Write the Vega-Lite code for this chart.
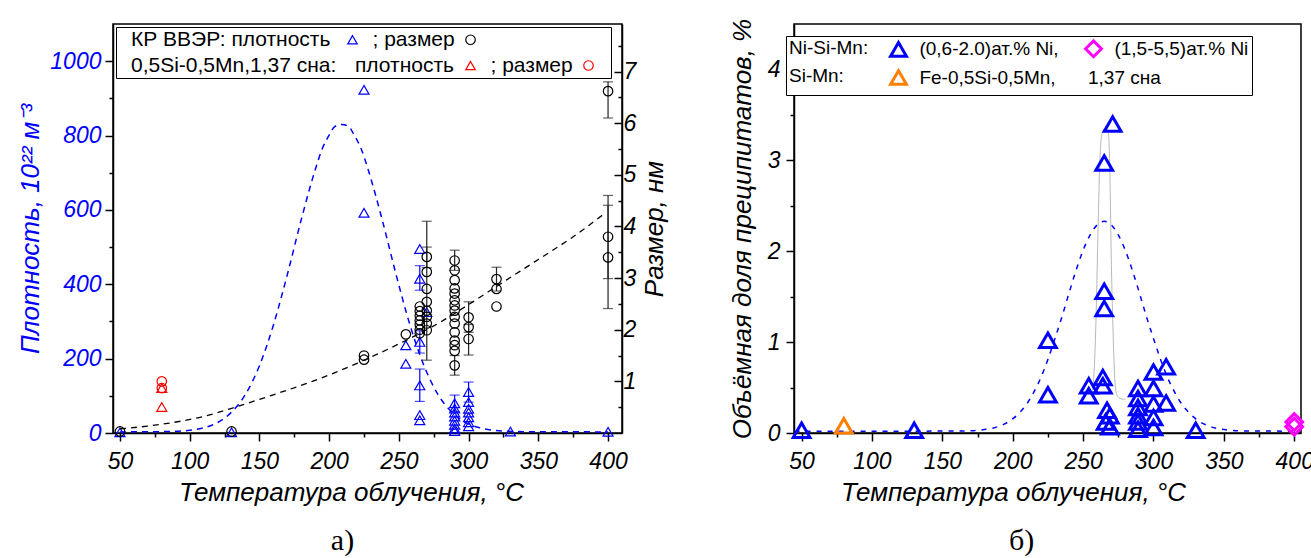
{
  "$schema": "https://vega.github.io/schema/vega-lite/v6.json",
  "background": "white",
  "padding": {"left": 17, "top": 17, "right": 5, "bottom": 0},
  "config": {
    "font": "Liberation Sans",
    "view": {"stroke": "black", "strokeWidth": 1.5},
    "axis": {
      "grid": false, "domainColor": "black", "domainWidth": 1.5, "tickColor": "black", "tickWidth": 1.5,
      "labelFont": "Liberation Sans", "labelFontStyle": "italic", "labelFontSize": 23, "labelColor": "black",
      "titleFont": "Liberation Sans", "titleFontStyle": "italic", "titleFontWeight": "normal", "titleFontSize": 26, "titleColor": "black",
      "labelFlush": false, "labelOverlap": false, "labelBound": false
    },
    "legend": {"labelFont": "Liberation Sans", "titleFont": "Liberation Sans"}
  },
  "datasets": {
    "dens": [
      {"T": 50, "D": 2, "s": "a"}, {"T": 130, "D": 2, "s": "a"},
      {"T": 225, "D": 923, "s": "a"}, {"T": 225, "D": 592, "s": "a"},
      {"T": 255, "D": 236, "s": "a"}, {"T": 255, "D": 186, "s": "a"},
      {"T": 265, "D": 495, "s": "a"}, {"T": 265, "D": 415, "s": "a", "lo": 384, "hi": 450},
      {"T": 270, "D": 325, "s": "a"}, {"T": 265, "D": 245, "s": "a", "lo": 215, "hi": 275},
      {"T": 265, "D": 128, "s": "a", "lo": 85, "hi": 172}, {"T": 265, "D": 48, "s": "a"}, {"T": 265, "D": 34, "s": "a"},
      {"T": 290, "D": 80, "s": "a", "lo": 58, "hi": 102}, {"T": 290, "D": 66, "s": "a"}, {"T": 290, "D": 55, "s": "a"},
      {"T": 290, "D": 44, "s": "a"}, {"T": 290, "D": 33, "s": "a"}, {"T": 290, "D": 22, "s": "a"},
      {"T": 290, "D": 12, "s": "a"}, {"T": 290, "D": 5, "s": "a"},
      {"T": 300, "D": 110, "s": "a", "lo": 83, "hi": 137}, {"T": 300, "D": 83, "s": "a"}, {"T": 300, "D": 65, "s": "a"},
      {"T": 300, "D": 55, "s": "a"}, {"T": 300, "D": 42, "s": "a"}, {"T": 300, "D": 29, "s": "a"}, {"T": 300, "D": 18, "s": "a"},
      {"T": 330, "D": 4, "s": "a"}, {"T": 400, "D": 3, "s": "a"},
      {"T": 80, "D": 121, "s": "c"}, {"T": 80, "D": 70, "s": "c"}
    ],
    "size": [
      {"T": 50, "S": 0.03, "s": "b"}, {"T": 130, "S": 0.03, "s": "b"},
      {"T": 225, "S": 1.5, "s": "b"}, {"T": 225, "S": 1.42, "s": "b"}, {"T": 255, "S": 1.91, "s": "b"},
      {"T": 265, "S": 2.45, "s": "b"}, {"T": 265, "S": 2.36, "s": "b"}, {"T": 265, "S": 2.27, "s": "b"},
      {"T": 265, "S": 2.18, "s": "b"}, {"T": 265, "S": 2.1, "s": "b"}, {"T": 265, "S": 2.0, "s": "b"}, {"T": 265, "S": 1.93, "s": "b"},
      {"T": 270, "S": 3.41, "s": "b", "lo": 3.2, "hi": 3.6}, {"T": 270, "S": 3.12, "s": "b"},
      {"T": 270, "S": 2.79, "s": "b", "lo": 1.41, "hi": 4.1}, {"T": 270, "S": 2.54, "s": "b"}, {"T": 270, "S": 2.37, "s": "b"},
      {"T": 270, "S": 2.25, "s": "b"}, {"T": 270, "S": 2.12, "s": "b"}, {"T": 270, "S": 1.99, "s": "b"},
      {"T": 290, "S": 3.34, "s": "b", "lo": 3.15, "hi": 3.54}, {"T": 290, "S": 3.15, "s": "b"}, {"T": 290, "S": 2.96, "s": "b"},
      {"T": 290, "S": 2.8, "s": "b"}, {"T": 290, "S": 2.7, "s": "b"}, {"T": 290, "S": 2.57, "s": "b"}, {"T": 290, "S": 2.47, "s": "b"},
      {"T": 290, "S": 2.37, "s": "b"}, {"T": 290, "S": 2.25, "s": "b"}, {"T": 290, "S": 2.12, "s": "b"}, {"T": 290, "S": 1.95, "s": "b"},
      {"T": 290, "S": 1.79, "s": "b"}, {"T": 290, "S": 1.7, "s": "b"}, {"T": 290, "S": 1.59, "s": "b"},
      {"T": 290, "S": 1.31, "s": "b", "lo": 1.12, "hi": 1.5},
      {"T": 300, "S": 2.24, "s": "b", "lo": 1.95, "hi": 2.54}, {"T": 300, "S": 2.05, "s": "b"},
      {"T": 300, "S": 1.82, "s": "b", "lo": 1.51, "hi": 2.1},
      {"T": 320, "S": 2.98, "s": "b", "lo": 2.75, "hi": 3.21}, {"T": 320, "S": 2.79, "s": "b"}, {"T": 320, "S": 2.45, "s": "b"},
      {"T": 400, "S": 6.62, "s": "b", "lo": 6.1, "hi": 6.8}, {"T": 400, "S": 3.8, "s": "b", "lo": 2.99, "hi": 4.6},
      {"T": 400, "S": 3.4, "s": "b", "lo": 2.41, "hi": 4.41},
      {"T": 80, "S": 1.0, "s": "d"}, {"T": 80, "S": 0.87, "s": "d"}
    ],
    "densfit": [
      {"T": 50, "D": 3}, {"T": 70, "D": 3.2}, {"T": 90, "D": 4.6}, {"T": 100, "D": 7.4}, {"T": 110, "D": 14},
      {"T": 120, "D": 28}, {"T": 130, "D": 56}, {"T": 140, "D": 104}, {"T": 150, "D": 181}, {"T": 160, "D": 290},
      {"T": 170, "D": 426}, {"T": 180, "D": 574}, {"T": 190, "D": 708}, {"T": 195, "D": 764}, {"T": 200, "D": 801},
      {"T": 204, "D": 824}, {"T": 209, "D": 830}, {"T": 214, "D": 824}, {"T": 218, "D": 801}, {"T": 223, "D": 764},
      {"T": 228, "D": 708}, {"T": 238, "D": 574}, {"T": 248, "D": 426}, {"T": 258, "D": 290}, {"T": 268, "D": 181},
      {"T": 278, "D": 104}, {"T": 288, "D": 56}, {"T": 298, "D": 28}, {"T": 308, "D": 14}, {"T": 318, "D": 7.4},
      {"T": 328, "D": 4.6}, {"T": 348, "D": 3.2}, {"T": 400, "D": 3}
    ],
    "sizefit": [
      {"T": 50, "S": 0.08}, {"T": 80, "S": 0.17}, {"T": 110, "S": 0.32}, {"T": 135, "S": 0.52}, {"T": 160, "S": 0.74},
      {"T": 190, "S": 1.02}, {"T": 220, "S": 1.35}, {"T": 245, "S": 1.66}, {"T": 260, "S": 1.86}, {"T": 280, "S": 2.15},
      {"T": 303, "S": 2.54}, {"T": 327, "S": 2.96}, {"T": 350, "S": 3.36}, {"T": 375, "S": 3.8}, {"T": 397, "S": 4.24}
    ],
    "vffit": [
      {"T": 45, "F": 0.02}, {"T": 100, "F": 0.02}, {"T": 150, "F": 0.021}, {"T": 165, "F": 0.023}, {"T": 175, "F": 0.03},
      {"T": 185, "F": 0.051}, {"T": 190, "F": 0.073}, {"T": 195, "F": 0.106}, {"T": 200, "F": 0.156}, {"T": 205, "F": 0.226},
      {"T": 210, "F": 0.32}, {"T": 215, "F": 0.45}, {"T": 220, "F": 0.61}, {"T": 225, "F": 0.81}, {"T": 230, "F": 1.04},
      {"T": 235, "F": 1.28}, {"T": 240, "F": 1.54}, {"T": 245, "F": 1.79}, {"T": 250, "F": 2.01}, {"T": 255, "F": 2.18},
      {"T": 260, "F": 2.29}, {"T": 265, "F": 2.33}, {"T": 270, "F": 2.29}, {"T": 275, "F": 2.18}, {"T": 280, "F": 2.01},
      {"T": 285, "F": 1.79}, {"T": 290, "F": 1.54}, {"T": 295, "F": 1.28}, {"T": 300, "F": 1.04}, {"T": 305, "F": 0.81},
      {"T": 310, "F": 0.61}, {"T": 315, "F": 0.45}, {"T": 320, "F": 0.32}, {"T": 325, "F": 0.226}, {"T": 330, "F": 0.156},
      {"T": 335, "F": 0.106}, {"T": 340, "F": 0.073}, {"T": 345, "F": 0.051}, {"T": 355, "F": 0.03}, {"T": 365, "F": 0.023},
      {"T": 404, "F": 0.02}
    ],
    "gray": [
      {"T": 256, "F": 0.43}, {"T": 257.5, "F": 0.6}, {"T": 258.9, "F": 1.11}, {"T": 260.6, "F": 2.22}, {"T": 261.8, "F": 2.95},
      {"T": 263.5, "F": 3.3}, {"T": 266, "F": 3.36}, {"T": 268, "F": 3.3}, {"T": 268.9, "F": 2.95}, {"T": 270.1, "F": 1.85},
      {"T": 271.3, "F": 1.11}, {"T": 272.5, "F": 0.6}, {"T": 274, "F": 0.42}, {"T": 277, "F": 0.375}, {"T": 280, "F": 0.37}
    ],
    "vf": [
      {"T": 50, "F": 0.03, "g": "e1"}, {"T": 130, "F": 0.03, "g": "e1"}, {"T": 225, "F": 1.02, "g": "e1"}, {"T": 225, "F": 0.42, "g": "e1"},
      {"T": 254, "F": 0.52, "g": "e1"}, {"T": 254, "F": 0.41, "g": "e1"}, {"T": 271, "F": 3.4, "g": "e1"}, {"T": 265, "F": 2.97, "g": "e1"},
      {"T": 265, "F": 1.56, "g": "e1"}, {"T": 265, "F": 1.37, "g": "e1"}, {"T": 264, "F": 0.61, "g": "e1"}, {"T": 264, "F": 0.52, "g": "e1"},
      {"T": 267, "F": 0.25, "g": "e1"}, {"T": 269, "F": 0.19, "g": "e1"}, {"T": 266, "F": 0.12, "g": "e1"}, {"T": 269, "F": 0.07, "g": "e1"},
      {"T": 289, "F": 0.49, "g": "e1"}, {"T": 289, "F": 0.38, "g": "e1"}, {"T": 289, "F": 0.28, "g": "e1"}, {"T": 289, "F": 0.19, "g": "e1"},
      {"T": 289, "F": 0.12, "g": "e1"}, {"T": 289, "F": 0.04, "g": "e1"}, {"T": 300, "F": 0.67, "g": "e1"}, {"T": 300, "F": 0.49, "g": "e1"},
      {"T": 300, "F": 0.32, "g": "e1"}, {"T": 300, "F": 0.17, "g": "e1"}, {"T": 300, "F": 0.06, "g": "e1"}, {"T": 309, "F": 0.73, "g": "e1"},
      {"T": 309, "F": 0.33, "g": "e1"}, {"T": 330, "F": 0.03, "g": "e1"},
      {"T": 400, "F": 0.12, "g": "e2"}, {"T": 400, "F": 0.07, "g": "e2"},
      {"T": 80, "F": 0.08, "g": "e3"}
    ]
  },
  "spacing": 59,
  "resolve": {"scale": {"color": "independent", "shape": "independent", "x": "independent", "y": "independent"}},
  "hconcat": [
    {
      "width": 509, "height": 409,
      "title": {"text": "а)", "orient": "bottom", "anchor": "middle", "font": "Liberation Serif", "fontSize": 30, "fontWeight": "normal", "color": "black", "dx": -25, "offset": 21},
      "encoding": {
        "x": {"field": "T", "type": "quantitative", "scale": {"domain": [45, 410], "nice": false, "zero": false},
          "axis": {"title": "Температура облучения, °C", "titleX": 238, "values": [50, 75, 100, 125, 150, 175, 200, 225, 250, 275, 300, 325, 350, 375, 400],
            "labelExpr": "datum.value % 50 === 0 ? format(datum.value, 'd') : ''",
            "tickSize": {"condition": {"test": "datum.value % 50 === 0", "value": 8}, "value": 4},
            "labelPadding": 9, "titlePadding": 6}}
      },
      "layer": [
        {
          "encoding": {"y": {"field": "D", "type": "quantitative", "scale": {"domain": [0, 1100], "nice": false, "zero": false},
            "axis": {"orient": "left", "title": "Плотность, 10²² м⁻³", "titleColor": "#0000ff", "labelColor": "#0000ff",
              "values": [0, 100, 200, 300, 400, 500, 600, 700, 800, 900, 1000],
              "labelExpr": "datum.value % 200 === 0 ? format(datum.value, 'd') : ''",
              "tickSize": {"condition": {"test": "datum.value % 200 === 0", "value": 8}, "value": 4},
              "labelPadding": 4, "titlePadding": 6}}},
          "layer": [
            {"data": {"name": "densfit"}, "mark": {"type": "line", "color": "#0000ff", "strokeDash": [6, 5], "strokeWidth": 1.5, "interpolate": "monotone"}, "encoding": {}},
            {"data": {"name": "dens"}, "transform": [{"filter": "isValid(datum.lo)"}],
              "mark": {"type": "rule", "color": "#0000ff", "strokeWidth": 1.2},
              "encoding": {"y": {"field": "lo", "type": "quantitative", "scale": {"domain": [0, 1100], "nice": false, "zero": false}}, "y2": {"field": "hi"}}},
            {"data": {"name": "dens"}, "transform": [{"filter": "isValid(datum.lo)"}, {"fold": ["lo", "hi"], "as": ["k", "cap"]}],
              "mark": {"type": "tick", "orient": "horizontal", "size": 10, "thickness": 1.2, "color": "#0000ff"},
              "encoding": {"y": {"field": "cap", "type": "quantitative", "scale": {"domain": [0, 1100], "nice": false, "zero": false}}}},
            {"data": {"name": "dens"}, "mark": {"type": "point", "filled": false, "strokeWidth": 1.2, "size": 100, "opacity": 1},
              "encoding": {
                "shape": {"field": "s", "type": "nominal", "scale": {"domain": ["t1", "a", "b", "x1", "t2", "t3", "c", "d"], "range": ["circle", "triangle-up", "circle", "circle", "circle", "circle", "triangle-up", "circle"]},
                  "legend": {"title": null, "orient": "top-left", "offset": 3, "columns": 4, "direction": "horizontal", "gridAlign": "each", "labelOffset": -8,
                    "columnPadding": 5, "rowPadding": 4, "padding": 2, "strokeColor": "black", "fillColor": "white", "labelFontSize": 21, "labelColor": "black",
                    "labelLimit": 600, "symbolSize": 90, "symbolStrokeWidth": 1.2,
                    "labelExpr": "datum.value == 't1' ? 'КР ВВЭР: плотность' : datum.value == 't2' ? '0,5Si-0,5Mn,1,37 сна:' : datum.value == 't3' ? 'плотность' : (datum.value == 'a' || datum.value == 'c') ? '\u200b\u00a0\u00a0\u00a0; размер' : datum.value == 'd' ? '\u200b\u00a0\u00a0\u00a0\u200b' : ''"}},
                "color": {"field": "s", "type": "nominal", "scale": {"domain": ["t1", "a", "b", "x1", "t2", "t3", "c", "d"], "range": ["transparent", "#0000ff", "#000000", "transparent", "transparent", "transparent", "#ff0000", "#ff0000"]},
                  "legend": {"title": null, "orient": "top-left", "offset": 3, "columns": 4, "direction": "horizontal", "gridAlign": "each", "labelOffset": -8,
                    "columnPadding": 5, "rowPadding": 4, "padding": 2, "strokeColor": "black", "fillColor": "white", "labelFontSize": 21, "labelColor": "black",
                    "labelLimit": 600, "symbolSize": 90, "symbolStrokeWidth": 1.2,
                    "labelExpr": "datum.value == 't1' ? 'КР ВВЭР: плотность' : datum.value == 't2' ? '0,5Si-0,5Mn,1,37 сна:' : datum.value == 't3' ? 'плотность' : (datum.value == 'a' || datum.value == 'c') ? '\u200b\u00a0\u00a0\u00a0; размер' : datum.value == 'd' ? '\u200b\u00a0\u00a0\u00a0\u200b' : ''"}}
              }}
          ]
        },
        {
          "encoding": {"y": {"field": "S", "type": "quantitative", "scale": {"domain": [0, 7.92], "nice": false, "zero": false},
            "axis": {"orient": "right", "title": "Размер, нм", "titleAngle": 270, "titleBaseline": "top",
              "values": [0.5, 1, 1.5, 2, 2.5, 3, 3.5, 4, 4.5, 5, 5.5, 6, 6.5, 7, 7.5],
              "labelExpr": "datum.value % 1 === 0 ? format(datum.value, 'd') : ''",
              "tickSize": {"condition": {"test": "datum.value % 1 === 0", "value": -8}, "value": -4},
              "labelPadding": 9, "titlePadding": 6}}},
          "layer": [
            {"data": {"name": "sizefit"}, "mark": {"type": "line", "color": "#000000", "strokeDash": [6, 5], "strokeWidth": 1.3, "interpolate": "monotone"}, "encoding": {}},
            {"data": {"name": "size"}, "transform": [{"filter": "isValid(datum.lo)"}],
              "mark": {"type": "rule", "color": "#222222", "strokeWidth": 1.2},
              "encoding": {"y": {"field": "lo", "type": "quantitative", "scale": {"domain": [0, 7.92], "nice": false, "zero": false}}, "y2": {"field": "hi"}}},
            {"data": {"name": "size"}, "transform": [{"filter": "isValid(datum.lo)"}, {"fold": ["lo", "hi"], "as": ["k", "cap"]}],
              "mark": {"type": "tick", "orient": "horizontal", "size": 10, "thickness": 1.2, "color": "#222222"},
              "encoding": {"y": {"field": "cap", "type": "quantitative", "scale": {"domain": [0, 7.92], "nice": false, "zero": false}}}},
            {"data": {"name": "size"}, "mark": {"type": "point", "filled": false, "strokeWidth": 1.2, "size": 90, "opacity": 1},
              "encoding": {
                "shape": {"field": "s", "type": "nominal"},
                "color": {"field": "s", "type": "nominal"}
              }}
          ]
        }
      ],
      "resolve": {"scale": {"y": "independent"}}
    },
    {
      "width": 507, "height": 409,
      "title": {"text": "б)", "orient": "bottom", "anchor": "middle", "font": "Liberation Serif", "fontSize": 30, "fontWeight": "normal", "color": "black", "dx": -26, "offset": 21},
      "encoding": {
        "x": {"field": "T", "type": "quantitative", "scale": {"domain": [44.6, 404.8], "nice": false, "zero": false},
          "axis": {"title": "Температура облучения, °C", "titleX": 219, "values": [50, 75, 100, 125, 150, 175, 200, 225, 250, 275, 300, 325, 350, 375, 400],
            "labelExpr": "datum.value % 50 === 0 ? format(datum.value, 'd') : ''",
            "tickSize": {"condition": {"test": "datum.value % 50 === 0", "value": 8}, "value": 4},
            "labelPadding": 9, "titlePadding": 6}},
        "y": {"field": "F", "type": "quantitative", "scale": {"domain": [0, 4.5], "nice": false, "zero": false},
          "axis": {"title": "Объёмная доля преципитатов, %", "values": [0, 0.5, 1, 1.5, 2, 2.5, 3, 3.5, 4],
            "labelExpr": "datum.value % 1 === 0 ? format(datum.value, 'd') : ''",
            "tickSize": {"condition": {"test": "datum.value % 1 === 0", "value": 8}, "value": 4},
            "labelPadding": 6, "titlePadding": 12}}
      },
      "layer": [
        {"data": {"name": "vffit"}, "mark": {"type": "line", "color": "#0000ff", "strokeDash": [5, 6], "strokeWidth": 1.5, "interpolate": "monotone"}, "encoding": {}},
        {"data": {"name": "gray"}, "mark": {"type": "line", "color": "#b8b8b8", "strokeWidth": 1, "interpolate": "monotone"}, "encoding": {}},
        {"data": {"name": "vf"}, "mark": {"type": "point", "filled": false, "strokeWidth": 3, "size": 280, "opacity": 1},
          "encoding": {
            "shape": {"field": "g", "type": "nominal", "scale": {"domain": ["e1", "e2", "e3", "e4"], "range": ["triangle-up", "diamond", "triangle-up", "circle"]},
              "legend": {"title": ["Ni-Si-Mn:", "Si-Mn:"], "titleOrient": "left", "titleAnchor": "start", "titleBaseline": "top", "titleFontSize": 19,
                "titleFontWeight": "normal", "titleColor": "black", "titleLineHeight": 28, "titlePadding": 20,
                "orient": "none", "legendX": -8, "legendY": 12, "columns": 2, "direction": "horizontal", "gridAlign": "each", "labelOffset": -15, "columnPadding": 20, "rowPadding": 0,
                "padding": 3, "strokeColor": "black", "fillColor": "white", "labelFontSize": 19, "labelColor": "black", "labelLimit": 600,
                "symbolSize": 250, "symbolStrokeWidth": 3,
                "labelExpr": "datum.value == 'e1' ? '\u200b\u00a0\u00a0\u00a0\u00a0\u00a0(0,6-2.0)ат.% Ni,' : datum.value == 'e2' ? '\u200b\u00a0\u00a0\u00a0\u00a0\u00a0(1,5-5,5)ат.% Ni' : datum.value == 'e3' ? '\u200b\u00a0\u00a0\u00a0\u00a0\u00a0Fe-0,5Si-0,5Mn,' : '1,37 сна'"}},
            "color": {"field": "g", "type": "nominal", "scale": {"domain": ["e1", "e2", "e3", "e4"], "range": ["#0000ff", "#ff00ff", "#ff8000", "transparent"]},
              "legend": {"title": ["Ni-Si-Mn:", "Si-Mn:"], "titleOrient": "left", "titleAnchor": "start", "titleBaseline": "top", "titleFontSize": 19,
                "titleFontWeight": "normal", "titleColor": "black", "titleLineHeight": 28, "titlePadding": 20,
                "orient": "none", "legendX": -8, "legendY": 12, "columns": 2, "direction": "horizontal", "gridAlign": "each", "labelOffset": -15, "columnPadding": 20, "rowPadding": 0,
                "padding": 3, "strokeColor": "black", "fillColor": "white", "labelFontSize": 19, "labelColor": "black", "labelLimit": 600,
                "symbolSize": 250, "symbolStrokeWidth": 3,
                "labelExpr": "datum.value == 'e1' ? '\u200b\u00a0\u00a0\u00a0\u00a0\u00a0(0,6-2.0)ат.% Ni,' : datum.value == 'e2' ? '\u200b\u00a0\u00a0\u00a0\u00a0\u00a0(1,5-5,5)ат.% Ni' : datum.value == 'e3' ? '\u200b\u00a0\u00a0\u00a0\u00a0\u00a0Fe-0,5Si-0,5Mn,' : '1,37 сна'"}}
          }}
      ]
    }
  ]
}
